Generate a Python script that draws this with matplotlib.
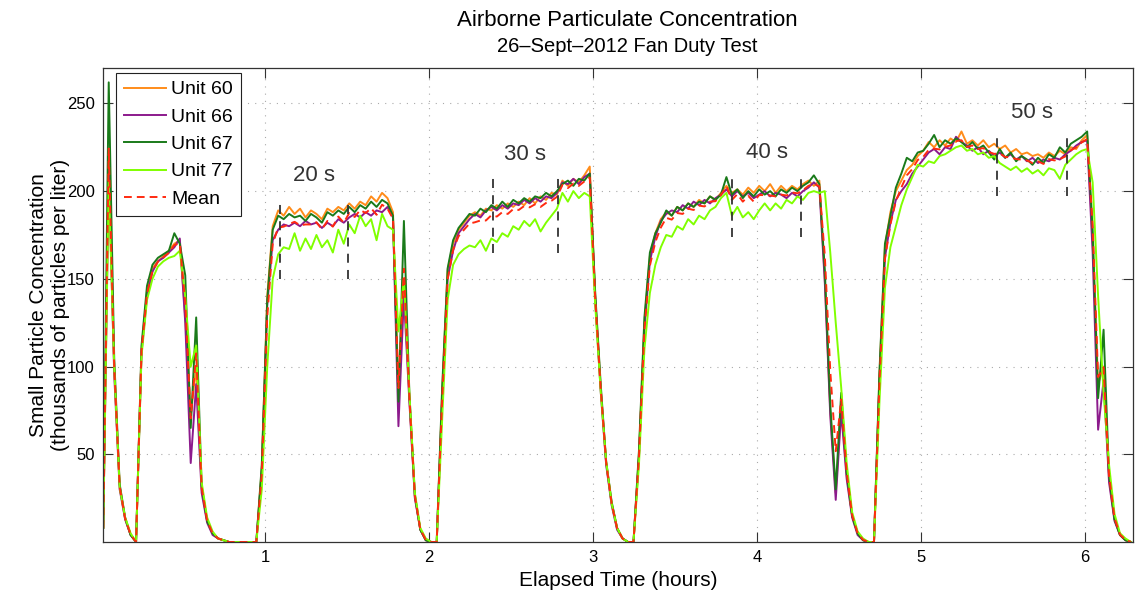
import numpy as np
import matplotlib
matplotlib.use("Agg")
import matplotlib.pyplot as plt

plt.rcParams["font.family"] = ["Liberation Sans", "DejaVu Sans"]

START_H = 0.014   # time of first sample (hours)
STEP_MIN = 2      # sample spacing (minutes)

# particle counts, thousands per liter, one value per sample
unit60 = [
    8, 218, 100, 32, 13, 4,
    0, 110, 142, 156, 160, 163, 166, 170, 172,
    128, 72, 100, 30, 12, 5, 2, 1,
    0, 0, 0, 0, 0, 0,
    42, 140, 180,
    189, 186, 191, 187, 190, 185, 189, 187, 184, 190, 188, 191, 189, 193, 190, 194, 192, 197, 194, 199, 196,
    188, 85, 150, 82, 26, 7, 1, 0, 0,
    85, 155,
    170, 178, 182, 186, 188, 186, 190, 189, 192, 190, 193, 191, 194, 192, 196, 193, 197, 195, 199, 198,
    206, 203, 207, 205, 209, 214,
    140, 88, 45, 22, 8, 2, 0, 0, 50, 125, 163, 176,
    184, 188, 186, 191, 189, 193, 191, 195, 193, 197, 195, 199, 203, 199, 201, 198, 202, 199, 203, 200,
    204, 199, 203, 200, 203, 201, 204, 206, 203, 206,
    150, 75, 28, 78, 38, 15, 5, 1, 0, 0, 95, 168,
    188, 200, 206, 212, 215, 220, 223, 228, 225, 229, 226, 230, 228, 234, 227, 229, 226, 229, 225, 227,
    224, 226, 222, 224, 221, 222, 220, 221, 219, 222, 220, 223, 221, 225, 224, 229,
    232, 172, 90, 100, 36, 13, 4, 1, 0,
]
unit66 = [
    8, 212, 96, 30, 13, 4,
    0, 108, 140, 154, 160, 162, 165, 168, 173,
    125, 45, 90, 28, 11, 4, 2, 1,
    0, 0, 0, 0, 0, 0,
    40, 135, 172,
    178, 181, 180, 182, 180, 183, 181, 182, 179, 182, 180, 184, 182, 185, 187, 185, 188, 186, 189, 188, 191,
    185, 66, 140, 80, 25, 7, 1, 0, 0,
    82, 150,
    166, 176, 180, 184, 187, 185, 189, 191, 189, 192, 190, 193, 192, 195, 193, 196, 194, 197, 196, 199,
    205, 204, 207, 204, 208, 210,
    138, 86, 44, 21, 7, 2, 0, 0, 48, 122, 160, 174,
    183, 187, 189, 188, 192, 190, 194, 192, 195, 193, 196, 198, 201, 197, 200, 197, 199, 196, 198, 200,
    197, 199, 198, 196, 199, 197, 200, 202, 205, 202,
    148, 72, 24, 74, 36, 14, 4, 1, 0, 0, 92, 162,
    182, 195, 200, 204, 210, 214, 218, 222, 224, 221, 225, 224, 231, 228, 226, 223, 225, 221, 223, 220,
    222, 219, 221, 218, 220, 217, 219, 216, 218, 217, 219, 218, 221, 223, 226, 228,
    229, 165, 64, 92, 34, 12, 4, 1, 0,
]
unit67 = [
    8, 262, 105, 33, 14, 4,
    0, 112, 146, 158, 162, 164, 166, 176, 170,
    152, 65, 128, 32, 12, 5, 2, 1,
    0, 0, 0, 0, 0, 0,
    44, 138, 178,
    186, 184, 187, 185, 186, 183, 187, 185, 182, 188, 186, 189, 187, 191, 188, 192, 190, 194, 191, 195, 193,
    186, 80, 183, 85, 27, 7, 1, 0, 0,
    88, 156,
    172, 179, 183, 187, 186, 190, 188, 192, 190, 194, 191, 195, 193, 196, 194, 197, 196, 199, 197, 200,
    204, 206, 203, 207, 206, 210,
    142, 90, 46, 23, 8, 2, 0, 0, 52, 128, 165, 176,
    182, 189, 186, 191, 189, 193, 191, 194, 193, 197, 195, 198, 208, 198, 201, 196, 200, 197, 201, 198,
    200, 197, 201, 199, 202, 200, 203, 205, 209, 204,
    155, 78, 30, 85, 40, 15, 5, 1, 0, 0, 97, 170,
    186, 202, 210, 219, 217, 222, 223, 227, 232, 225, 229, 227, 230, 228, 225, 228, 224, 226, 222, 218,
    224, 219, 222, 217, 220, 218, 215, 219, 216, 221, 219, 225, 222, 227, 229, 231,
    234, 178, 82, 121, 38, 13, 4, 1, 0,
]
unit77 = [
    8, 205, 100, 31, 14, 5,
    0, 106, 138, 150, 157, 160, 162, 163, 166,
    140, 100, 112, 34, 14, 6, 2, 1,
    0, 0, 0, 0, 0, 0,
    30, 100, 150,
    164, 168, 167, 176, 166, 173, 167, 175, 168, 172, 165, 178, 170, 181, 176, 186, 180, 184, 172, 187, 180,
    178, 120, 150, 85, 28, 8, 2, 0, 0,
    70, 138,
    158, 164, 167, 169, 168, 172, 166, 173, 171, 176, 174, 180, 178, 183, 180, 184, 177, 182, 186, 190,
    199, 194, 200, 196, 199, 197,
    135, 86, 46, 22, 8, 2, 0, 0, 44, 110, 142, 158,
    168, 175, 174, 180, 178, 184, 181, 186, 184, 189, 191, 196, 199, 186, 191, 185, 188, 184, 189, 193,
    189, 193, 190, 195, 193, 197, 195, 199, 200, 199,
    200, 165, 125, 88, 45, 17, 6, 2, 0, 0, 80, 145,
    168, 180, 192, 201, 208, 215, 214, 217, 216, 220, 221, 223, 225, 226, 223, 224, 221, 222, 219, 220,
    216, 214, 212, 214, 211, 213, 210, 212, 209, 213, 212, 207, 215, 218, 221, 223,
    224, 205, 140, 85, 44, 16, 5, 2, 0,
]

unit_names = ["Unit 60", "Unit 66", "Unit 67", "Unit 77"]
unit_colors = ["#ff8c1a", "#8c1a8c", "#1a7a1a", "#80ff00"]

# fan duty windows: label, window start/end (h), marker span (thousands/l), label spot
duty_labels = ["20 s", "30 s", "40 s", "50 s"]
win_start = [1.09, 2.39, 3.848, 5.463]
win_end = [1.506, 2.787, 4.268, 5.89]
win_lo = [150, 165, 174, 197]
win_hi = [194, 208, 208, 231]
label_x = [1.30, 2.585, 4.06, 5.68]
label_y = [209, 221, 222, 245]


def main():
    series = [unit60, unit66, unit67, unit77]
    n = len(unit60)
    assert all(len(s) == n for s in series)
    t = START_H + np.arange(n) * STEP_MIN / 60.0
    mean = np.mean(np.array(series, dtype=float), axis=0)

    fig = plt.figure(figsize=(11.36, 5.92), dpi=100)
    ax = fig.add_axes([0.0909, 0.0845, 0.9064, 0.8001])

    for name, vals, c in zip(unit_names, series, unit_colors):
        ax.plot(t, vals, color=c, lw=1.4, label=name)
    ax.plot(t, mean, color="#ff2a10", lw=1.4, ls=(0, (4, 2.6)), label="Mean")

    for lab, x0, x1, lo, hi, tx, ty in zip(duty_labels, win_start, win_end,
                                           win_lo, win_hi, label_x, label_y):
        ax.vlines([x0, x1], lo, hi, colors="#333333", lw=1.3, linestyles=(0, (5, 4)))
        ax.text(tx, ty, lab, ha="center", va="center", fontsize=16, color="#333333")

    ax.set_xlim(START_H, 6.293)
    ax.set_ylim(0, 270)
    ax.set_xticks([1, 2, 3, 4, 5, 6])
    ax.set_yticks([50, 100, 150, 200, 250])
    ax.tick_params(direction="in", length=7, width=0.8, top=True, right=True,
                   labelsize=12, pad=6, color="#333333")
    ax.grid(True, color="#aaaaaa", lw=0.8, ls=(0, (1, 5.5)))
    for s in ax.spines.values():
        s.set_color("#333333")
        s.set_linewidth(0.9)

    ax.set_xlabel("Elapsed Time (hours)", fontsize=15, labelpad=4)
    ax.set_ylabel("Small Particle Concentration\n(thousands of particles per liter)",
                  fontsize=15, labelpad=-2)
    fig.text(0.552, 1 - 20 / 592, "Airborne Particulate Concentration",
             ha="center", va="center", fontsize=16)
    fig.text(0.552, 1 - 46 / 592, "26\u2013Sept\u20132012 Fan Duty Test",
             ha="center", va="center", fontsize=14.5)

    leg = ax.legend(loc="upper left", bbox_to_anchor=(0.0123, 0.990), borderaxespad=0,
                    fontsize=14, handlelength=2.15, handletextpad=0.3, fancybox=False,
                    framealpha=1, edgecolor="#222222", labelspacing=0.5, borderpad=0.4)
    leg.get_frame().set_linewidth(0.8)

    plt.savefig("out.png", dpi=100)
    plt.close()


if __name__ == "__main__":
    main()
